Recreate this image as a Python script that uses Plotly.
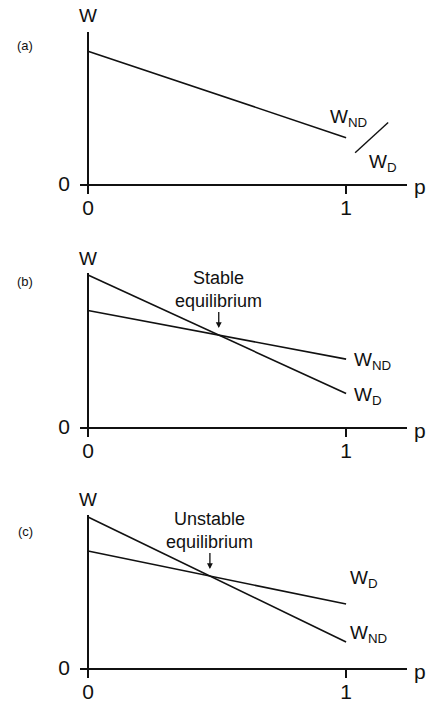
import plotly.graph_objects as go

# ---- data (arbitrary fitness units) ----
p = [0, 1]
W_a = [0.874, 0.305]            # (a) W_ND = W_D
W_D_b = [0.987, 0.217]          # (b)
W_ND_b = [0.757, 0.441]
W_ND_c = [0.987, 0.170]         # (c)
W_D_c = [0.765, 0.418]
panel_labels = ["(a)", "(b)", "(c)"]
eq_labels = ["Stable<br>equilibrium", "Unstable<br>equilibrium"]
xtick_vals = [0, 1]
xtick_text = ["0", "1"]
ytick_vals = [0]
ytick_text = ["0"]

REF_W, REF_H = 427, 705
FIG_W, FIG_H = 427, 716
FONT = "Liberation Sans, Arial, Helvetica, sans-serif"
BLACK = "#111111"


def fy(px):
    return 1 - px / REF_H


def fx(px):
    return px / REF_W


# panel vertical extents in reference pixels (top of W axis, position of p axis)
panels = [(32, 184), (273, 427), (515, 668)]
x_dom = [fx(80), fx(407)]
x_rng = [-0.031, 1.236]

fig = go.Figure()

line_style = dict(color=BLACK, width=1.6)


def add_line(y, k):
    fig.add_trace(go.Scatter(x=p, y=y, mode="lines", line=line_style,
                             xaxis="x" if k == 1 else f"x{k}",
                             yaxis="y" if k == 1 else f"y{k}",
                             hoverinfo="skip", showlegend=False))


add_line(W_a, 1)
add_line(W_D_b, 2)
add_line(W_ND_b, 2)
add_line(W_ND_c, 3)
add_line(W_D_c, 3)

layout = dict(width=FIG_W, height=FIG_H, margin=dict(l=0, r=0, t=0, b=0),
              paper_bgcolor="white", plot_bgcolor="white", showlegend=False,
              font=dict(family=FONT, color=BLACK))

for i, (top, bot) in enumerate(panels):
    k = i + 1
    xs = "" if k == 1 else str(k)
    layout[f"xaxis{xs}"] = dict(
        domain=x_dom, range=x_rng, anchor=f"y{xs}", showline=True,
        linecolor=BLACK, linewidth=1.5, ticks="outside", ticklen=8,
        tickwidth=1.5, tickcolor=BLACK, tickvals=xtick_vals, ticktext=xtick_text,
        ticklabelstandoff=-4,
        tickfont=dict(size=21, family=FONT, color=BLACK), showgrid=False,
        zeroline=True, zerolinecolor=BLACK, zerolinewidth=1.5, fixedrange=True)
    layout[f"yaxis{xs}"] = dict(
        domain=[fy(bot), fy(top)], range=[0, 1], anchor=f"x{xs}",
        showline=False, showgrid=False, zeroline=False, ticks="",
        tickvals=ytick_vals, ticktext=ytick_text, ticklabelstandoff=9,
        tickfont=dict(size=21, family=FONT, color=BLACK), fixedrange=True)

fig.update_layout(**layout)

ann_font = dict(family=FONT, size=19, color=BLACK)

# axis names and panel labels
label_y = [46, 281, 531]
w_shift = [4, 2, 3]
for i in range(3):
    k = i + 1
    xs = "" if k == 1 else str(k)
    fig.add_annotation(x=0, y=1, xref=f"x{xs}", yref=f"y{xs} domain",
                       text="W", showarrow=False, xanchor="center",
                       yanchor="bottom", yshift=w_shift[i], font=ann_font)
    fig.add_annotation(x=1, y=0, xref=f"x{xs} domain", yref=f"y{xs} domain",
                       text="p", showarrow=False, xanchor="left",
                       yanchor="middle", xshift=5, yshift=-3,
                       font=dict(family=FONT, size=21, color=BLACK))
    fig.add_annotation(x=fx(25), y=fy(label_y[i]), xref="paper", yref="paper",
                       text=panel_labels[i], showarrow=False, xanchor="center",
                       yanchor="middle", font=dict(family=FONT, size=13, color=BLACK))

# panel (a) line labels with slash
fig.add_annotation(x=p[1], y=W_a[1], xref="x", yref="y", text="W<sub>ND</sub>",
                   showarrow=False, xanchor="left", yanchor="middle",
                   xshift=-18, yshift=20, font=ann_font)
fig.add_annotation(x=p[1], y=W_a[1], xref="x", yref="y", text="W<sub>D</sub>",
                   showarrow=False, xanchor="left", yanchor="middle",
                   xshift=21, yshift=-25, font=ann_font)
fig.add_shape(type="line", xref="x", yref="y",
              x0=p[1] + 0.035, y0=W_a[1] - 0.10, x1=p[1] + 0.163, y1=W_a[1] + 0.10,
              line=dict(color=BLACK, width=1.4))

# panel (b) labels
fig.add_annotation(x=p[1], y=W_ND_b[1], xref="x2", yref="y2", text="W<sub>ND</sub>",
                   showarrow=False, xanchor="left", yanchor="middle",
                   xshift=6, yshift=-2, font=ann_font)
fig.add_annotation(x=p[1], y=W_D_b[1], xref="x2", yref="y2", text="W<sub>D</sub>",
                   showarrow=False, xanchor="left", yanchor="middle",
                   xshift=6, yshift=-2, font=ann_font)

# panel (c) labels
fig.add_annotation(x=p[1], y=W_D_c[1], xref="x3", yref="y3", text="W<sub>D</sub>",
                   showarrow=False, xanchor="left", yanchor="middle",
                   xshift=2, yshift=25, font=ann_font)
fig.add_annotation(x=p[1], y=W_ND_c[1], xref="x3", yref="y3", text="W<sub>ND</sub>",
                   showarrow=False, xanchor="left", yanchor="middle",
                   xshift=2, yshift=8, font=ann_font)


# equilibrium annotations at the line crossings
def crossing(a, b):
    sa = a[1] - a[0]
    sb = b[1] - b[0]
    t = (b[0] - a[0]) / (sa - sb)
    return p[0] + t * (p[1] - p[0]), a[0] + t * sa


for (ya, yb, k, txt) in [(W_D_b, W_ND_b, 2, eq_labels[0]),
                         (W_ND_c, W_D_c, 3, eq_labels[1])]:
    xe, ye = crossing(ya, yb)
    fig.add_annotation(x=xe, y=ye, xref=f"x{k}", yref=f"y{k}", text=txt,
                       showarrow=True, ax=0, ay=-46, standoff=7,
                       arrowhead=2, arrowsize=0.9, arrowwidth=1.3,
                       arrowcolor=BLACK, font=dict(family=FONT, size=18, color=BLACK),
                       align="center")

fig.write_html(
    "out.html",
    config={"displayModeBar": False},
    post_script="document.body.style.margin='0';document.body.style.overflow='hidden';",
)
